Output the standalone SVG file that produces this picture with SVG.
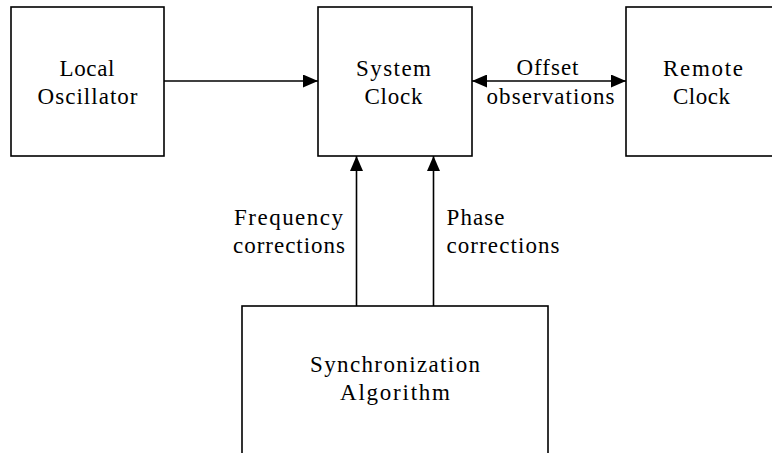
<svg xmlns="http://www.w3.org/2000/svg" width="772" height="453" viewBox="0 0 772 453">
  <style>
    .box { fill: #ffffff; stroke: #000000; stroke-width: 1.6; }
    .edge { fill: none; stroke: #000000; stroke-width: 1.6; }
    text { font-family: 'Liberation Serif', 'DejaVu Serif', 'Noto Serif', serif; font-size: 23px; fill: #000000; }
  </style>
  <defs>
    <marker id="arrow" viewBox="0 0 15 13" refX="15" refY="6.5" markerWidth="15" markerHeight="13" markerUnits="userSpaceOnUse" orient="auto-start-reverse">
      <path d="M0,0 L15,6.5 L0,13 z" fill="#000000"/>
    </marker>
  </defs>
  <rect x="0" y="0" width="772" height="453" fill="#ffffff"/>

  <g id="local-oscillator" font-family="Liberation Serif, serif">
    <rect class="box" x="11" y="7" width="153" height="149"/>
    <text x="59.5" y="76" textLength="55" lengthAdjust="spacing">Local</text>
    <text x="37.5" y="104" textLength="100" lengthAdjust="spacing">Oscillator</text>
  </g>

  <g id="system-clock" font-family="Liberation Serif, serif">
    <rect class="box" x="318" y="7" width="154" height="149"/>
    <text x="356" y="76" textLength="75" lengthAdjust="spacing">System</text>
    <text x="364.5" y="104" textLength="58" lengthAdjust="spacing">Clock</text>
  </g>

  <g id="remote-clock" font-family="Liberation Serif, serif">
    <rect class="box" x="626" y="7" width="154" height="149"/>
    <text x="663" y="76" textLength="80" lengthAdjust="spacing">Remote</text>
    <text x="673" y="104" textLength="57" lengthAdjust="spacing">Clock</text>
  </g>

  <g id="synchronization-algorithm" font-family="Liberation Serif, serif">
    <rect class="box" x="242" y="306" width="306" height="200"/>
    <text x="310" y="372" textLength="170" lengthAdjust="spacing">Synchronization</text>
    <text x="340" y="400" textLength="110" lengthAdjust="spacing">Algorithm</text>
  </g>

  <g id="connectors" font-family="Liberation Serif, serif">
    <line class="edge" x1="164" y1="81" x2="318" y2="81" marker-end="url(#arrow)"/>
    <line class="edge" x1="472" y1="81" x2="626" y2="81" marker-start="url(#arrow)" marker-end="url(#arrow)"/>
    <line class="edge" x1="356.5" y1="306" x2="356.5" y2="156" marker-end="url(#arrow)"/>
    <line class="edge" x1="433.5" y1="306" x2="433.5" y2="156" marker-end="url(#arrow)"/>
    <text x="516.5" y="75" textLength="62" lengthAdjust="spacing">Offset</text>
    <text x="486.5" y="103.5" textLength="128" lengthAdjust="spacing">observations</text>
    <text x="234" y="224.5" textLength="109" lengthAdjust="spacing">Frequency</text>
    <text x="233" y="252.5" textLength="112" lengthAdjust="spacing">corrections</text>
    <text x="446.5" y="224.5" textLength="58" lengthAdjust="spacing">Phase</text>
    <text x="446.5" y="252.5" textLength="113" lengthAdjust="spacing">corrections</text>
  </g>
</svg>
